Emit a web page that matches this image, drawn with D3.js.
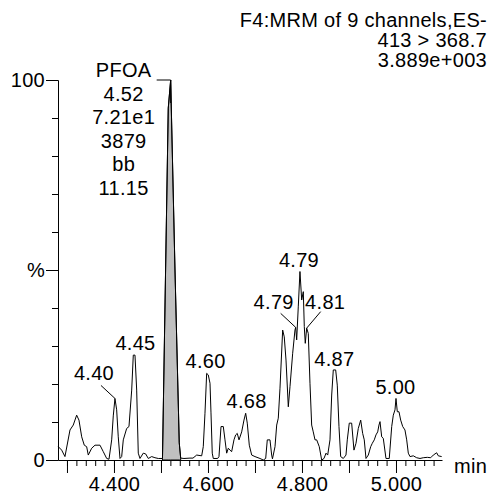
<!DOCTYPE html>
<html><head><meta charset="utf-8">
<script src="https://cdn.jsdelivr.net/npm/d3@7"></script>
<style>
body{margin:0;background:#fff}
svg text{font-family:"Liberation Sans",Arial,Helvetica,sans-serif;font-size:20px;fill:#000;letter-spacing:0.3px}
</style>
</head><body><svg id="c" width="488" height="495"></svg>
<script>
// ---- data ----
const retentionTime = [4.2815,4.2887,4.2957,4.3064,4.3134,4.3206,4.3255,4.3313,4.3368,4.3419,
 4.3453,4.3526,4.3596,4.3702,4.3772,4.3845,4.3894,4.3951,4.3985,4.4021,
 4.4057,4.4091,4.4128,4.4164,4.4198,4.4270,4.4319,4.4377,4.4411,4.4447,
 4.4483,4.4517,4.4553,4.4623,4.4674,4.4730,4.4802,4.4872,4.4943,4.5032,
 4.5155,4.5206,4.5298,4.5389,4.5419,4.5489,4.5617,4.5681,4.5760,4.5866,
 4.5900,4.5936,4.5972,4.6006,4.6043,4.6064,4.6091,4.6113,4.6206,4.6234,
 4.6277,4.6326,4.6362,4.6398,4.6432,4.6468,4.6504,4.6553,4.6589,4.6623,
 4.6660,4.6717,4.6766,4.6802,4.6836,4.6879,4.6930,4.7000,4.7106,4.7177,
 4.7228,4.7262,4.7319,4.7355,4.7372,4.7426,4.7462,4.7496,4.7532,4.7589,
 4.7623,4.7660,4.7709,4.7745,4.7802,4.7851,4.7866,4.7887,4.7921,4.7957,
 4.7994,4.8028,4.8049,4.8070,4.8100,4.8134,4.8170,4.8206,4.8240,4.8277,
 4.8313,4.8368,4.8419,4.8468,4.8511,4.8547,4.8596,4.8632,4.8666,4.8717,
 4.8751,4.8787,4.8823,4.8879,4.8936,4.8964,4.9006,4.9057,4.9106,4.9149,
 4.9198,4.9249,4.9291,4.9325,4.9362,4.9411,4.9462,4.9496,4.9538,4.9574,
 4.9611,4.9638,4.9660,4.9696,4.9730,4.9787,4.9857,4.9909,4.9943,4.9979,
 5.0000,5.0028,5.0064,5.0100,5.0143,5.0191,5.0228,5.0262,5.0298,5.0368,
 5.0440,5.0511,5.0581,5.0666,5.0738,5.0794,5.0866,5.0900,5.0972];
const relIntensity = [3.5,2.6,0.9,7.9,9.2,11.8,10.5,6.1,3.9,3.5,
 1.3,3.1,3.9,3.9,2.2,0.4,0.2,5.3,11.6,16.2,
 13.2,6.1,0.4,0.9,5.3,8.3,8.8,18.4,27.6,27.6,
 18.4,1.8,0.4,1.8,1.6,0.4,0.9,0.6,0.4,0.4,
 92.6,100,50,4.5,0.5,0.4,0.5,0.5,1.3,1.1,
 3.5,12.3,22.8,22.4,20.2,12.4,1.8,0.4,0.4,0.9,
 8.8,8.8,5.3,1.8,3.1,2.6,2.2,5.3,6.6,7.0,
 5.3,7.4,10.5,12.3,9.7,3.9,1.3,0.9,0.4,0,
 0.4,5.3,5.3,1.3,0.3,3.5,9.2,11.0,18.9,34.2,
 32.4,26.3,14.0,19.3,28.1,34.2,34.9,31.6,40.3,49.6,
 42.1,44.3,35.1,30.7,34.7,33.3,20.2,9.2,7.4,5.3,
 5.3,3.5,0,0.4,1.8,1.3,5.3,17.1,23.7,23.7,
 19.7,8.8,0.9,0.4,1.3,5.3,9.7,9.7,2.6,4.4,
 8.3,10.5,7.0,5.3,0.4,1.3,3.5,4.4,5.3,6.6,
 7.4,9.2,10.1,6.1,5.7,0.4,0.4,8.8,11.8,13.2,
 16.2,12.7,12.7,10.5,8.8,7.9,5.3,1.8,0.9,1.1,
 0.6,0.4,0.6,0.7,0.6,1.3,1.9,1.1,0.9];

const integratedRange = [4.5032, 4.5419];
const compoundInfo = ["PFOA","4.52","7.21e1","3879","bb","11.15"];
const compoundApex = [4.5206, 100];

const peakLabels = ["4.40","4.45","4.60","4.68","4.79","4.79","4.81","4.87","5.00"];
const peakTimes  = [4.4021,4.4447,4.5972,4.6802,4.7957,4.7866,4.8100,4.8666,5.0000];
const peakValues = [16.2,27.6,22.8,12.3,49.6,34.9,34.7,23.7,16.2];

const headerLines = ["F4:MRM of 9 channels,ES-","413 > 368.7","3.889e+003"];
const xMajorTicks = [4.3,4.4,4.5,4.6,4.7,4.8,4.9,5.0];
const xLabelTicks = [4.4,4.6,4.8,5.0];
const yTicks = [0,10,20,30,40,50,60,70,80,90,100];
const yLabels = {0:"0",50:"%",100:"100"};
const xUnit = "min";

// ---- layout (positions) ----
const peakLabelOffsets = [[-21,-18,[-14,-13,0,0]],[0.5,-5],[-1,-5],[1,-5],[-1,-4.5],
  [-22,-18,[-15,-14,0,0]],[18.5,-19,[14,-16.5,0,0]],[1,-4],[-0.5,-4.3]];

const svg = d3.select("#c");
const x = d3.scaleLinear().domain([4.2809, 5.0979]).range([58, 442]);
const y = d3.scaleLinear().domain([0, 100]).range([460, 80]);

// x axis: minor ticks
const minorTicks = d3.range(4.30, 5.09, 0.02).map(v => +v.toFixed(2));
svg.append("g").attr("transform","translate(0,460)")
  .call(d3.axisBottom(x).tickValues(minorTicks).tickSize(6).tickSizeOuter(0).tickFormat(""))
  .call(g => g.selectAll("line,path").attr("stroke","#000"));
svg.append("g").attr("transform","translate(0,460)")
  .call(d3.axisBottom(x).tickValues(xMajorTicks).tickSize(13).tickSizeOuter(0).tickPadding(4)
     .tickFormat(d => xLabelTicks.some(v => Math.abs(v-d)<1e-6) ? d3.format(".3f")(d) : ""))
  .call(g => { g.select(".domain").remove(); g.selectAll("line").attr("stroke","#000");
     g.selectAll("text").attr("font-size",20).attr("font-family",null); });

// y axis
svg.append("g").attr("transform","translate(58,0)")
  .call(d3.axisLeft(y).tickValues(yTicks).tickSizeOuter(0).tickPadding(1)
     .tickSize(6).tickFormat(d => yLabels[d] || ""))
  .call(g => { g.selectAll("line,path").attr("stroke","#000");
     g.selectAll(".tick").filter(d => yLabels[d]).select("line").attr("x2",-12);
     g.selectAll("text").attr("x",-13).attr("font-size",20).attr("font-family",null); });

svg.append("text").attr("x", 454).attr("y", 473).text(xUnit);

// integrated area
const pts = retentionTime.map((t,i)=>[t, relIntensity[i]]);
const inArea = pts.filter(p => p[0] >= integratedRange[0]-1e-9 && p[0] <= integratedRange[1]+1e-9);
svg.append("path").datum(inArea)
  .attr("d", d3.area().x(d=>x(d[0])).y0(y(0)).y1(d=>y(d[1])))
  .attr("fill","#c0c0c0").attr("stroke","#000").attr("stroke-width",1);

// trace
svg.append("path").datum(pts)
  .attr("d", d3.line().x(d=>x(d[0])).y(d=>y(d[1])))
  .attr("fill","none").attr("stroke","#000").attr("stroke-width",1).attr("stroke-linejoin","round");

// peak labels
peakLabels.forEach((lab,i)=>{
  const px = x(peakTimes[i]), py = y(peakValues[i]);
  const o = peakLabelOffsets[i];
  svg.append("text").attr("x", px+o[0]).attr("y", py+o[1]).attr("text-anchor","middle").text(lab);
  if (o[2]) {
    svg.append("line").attr("x1",px+o[2][0]).attr("y1",py+o[2][1]).attr("x2",px).attr("y2",py)
      .attr("stroke","#000").attr("stroke-width",1);
  }
});

// compound block
const ax = x(compoundApex[0]), ay = y(compoundApex[1]);
compoundInfo.forEach((s,i)=>{
  svg.append("text").attr("x", ax-47).attr("y", 77 + i*23.5).attr("text-anchor","middle").text(s);
});
svg.append("path").attr("d", `M${ax-14},${ay}H${ax}V${ay+23}`).attr("fill","none").attr("stroke","#000");

// header (right-aligned, kept inside the frame)
headerLines.forEach((s,i)=>{
  svg.append("text").attr("x", 487).attr("y", 27 + i*20).attr("text-anchor","end").text(s);
});
</script>
</body></html>
